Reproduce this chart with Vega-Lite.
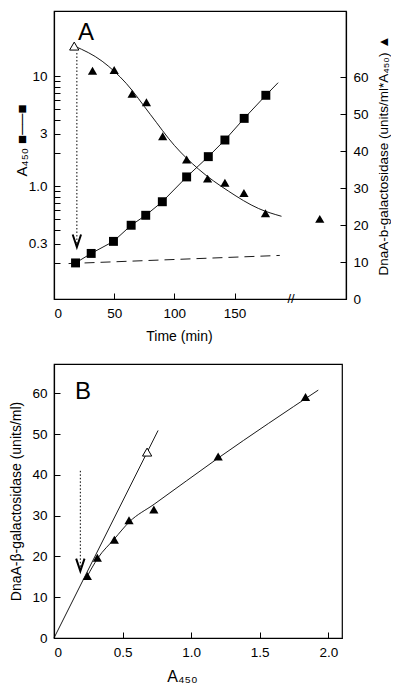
{
  "$schema": "https://vega.github.io/schema/vega-lite/v6.json",
  "padding": {"left": 9, "top": 10, "right": 0, "bottom": 0},
  "background": "white",
  "config": {
    "font": "Liberation Sans",
    "view": {"stroke": "black", "strokeWidth": 1.2},
    "axis": {
      "grid": false, "domainColor": "black", "tickColor": "black", "labelColor": "black", "titleColor": "black",
      "labelFont": "Liberation Sans", "titleFont": "Liberation Sans", "labelFontSize": 13.5, "titleFontSize": 14,
      "titleFontWeight": "normal", "tickSize": -6, "labelPadding": 13, "domainWidth": 1.2, "tickWidth": 1
    }
  },
  "datasets": {
    "squares": [
      {"t": 17.9, "a": 0.2}, {"t": 30.9, "a": 0.244}, {"t": 49.4, "a": 0.314}, {"t": 64.1, "a": 0.44},
      {"t": 76.2, "a": 0.542}, {"t": 90.0, "a": 0.72}, {"t": 110.2, "a": 1.21}, {"t": 128.2, "a": 1.85},
      {"t": 142.0, "a": 2.62}, {"t": 158.0, "a": 4.12}, {"t": 176.0, "a": 6.68}
    ],
    "squareLine": [
      {"t": 17.9, "a": 0.2}, {"t": 30.9, "a": 0.244}, {"t": 49.4, "a": 0.314}, {"t": 64.1, "a": 0.44},
      {"t": 76.2, "a": 0.542}, {"t": 90.0, "a": 0.72}, {"t": 110.2, "a": 1.21}, {"t": 128.2, "a": 1.85},
      {"t": 142.0, "a": 2.62}, {"t": 158.0, "a": 4.12}, {"t": 176.0, "a": 6.68}, {"t": 186.2, "a": 8.7}
    ],
    "arrowA": [{"t": 19, "a": 16.2, "a2": 0.279}],
    "labelA": [{"t": 26.6, "a": 24.6, "label": "A"}],
    "breakA": [{"t": 197, "a": 0.094, "label": "//"}],
    "trianglesA": [
      {"t": 32.0, "g": 61.8}, {"t": 50.0, "g": 62.0}, {"t": 64.9, "g": 55.6}, {"t": 76.8, "g": 53.3},
      {"t": 90.3, "g": 44.1}, {"t": 110.2, "g": 37.8}, {"t": 127.6, "g": 32.6}, {"t": 142.0, "g": 31.5},
      {"t": 157.8, "g": 28.7}, {"t": 175.7, "g": 23.2}, {"t": 220.8, "g": 21.7}
    ],
    "openA": [{"t": 16.8, "g": 68.5}],
    "curveA": [
      {"t": 17, "g": 68.5}, {"t": 40, "g": 64.4}, {"t": 60, "g": 58.4}, {"t": 80, "g": 50.0},
      {"t": 100, "g": 41.6}, {"t": 120, "g": 35.2}, {"t": 145, "g": 29.2}, {"t": 170, "g": 24.5},
      {"t": 189, "g": 22.4}
    ],
    "dashA": [{"t": 12.1, "g": 9.6}, {"t": 187.6, "g": 11.8}],
    "trianglesB": [
      {"x": 0.243, "y": 15.2}, {"x": 0.316, "y": 19.7}, {"x": 0.44, "y": 24.1}, {"x": 0.547, "y": 28.9},
      {"x": 0.728, "y": 31.5}, {"x": 1.197, "y": 44.5}, {"x": 1.834, "y": 59.1}
    ],
    "openB": [{"x": 0.679, "y": 45.6}],
    "steepB": [{"x": 0, "y": 0}, {"x": 0.759, "y": 50.9}],
    "curveB": [
      {"x": 0.24, "y": 15.0}, {"x": 0.32, "y": 19.6}, {"x": 0.44, "y": 24.3}, {"x": 0.55, "y": 28.5},
      {"x": 0.73, "y": 32.8}, {"x": 1.2, "y": 44.2}, {"x": 1.927, "y": 60.8}
    ],
    "arrowB": [{"x": 0.192, "y": 41.0, "y2": 16.4}],
    "labelB": [{"x": 0.212, "y": 60.3, "label": "B"}]
  },
  "vconcat": [
    {
      "width": 292,
      "height": 288,
      "layer": [
        {
          "encoding": {
            "x": {"field": "t", "type": "quantitative", "scale": {"domain": [0, 242.6], "nice": false},
                  "axis": {"values": [0, 50, 100, 150], "title": "Time (min)", "titleX": 125, "titlePadding": 10}},
            "y": {"field": "a", "type": "quantitative",
                  "scale": {"type": "log", "domain": [0.094, 39], "nice": false},
                  "axis": {"values": [0.2, 0.3, 0.4, 0.5, 0.6, 0.7, 0.8, 0.9, 1, 2, 3, 4, 5, 6, 7, 8, 9, 10],
                           "labelExpr": "datum.value == 10 ? '10' : datum.value == 3 ? '3' : datum.value == 1 ? '1.0' : datum.value == 0.3 ? '0.3' : ''",
                           "title": "A₄₅₀   ■──■", "titleFontSize": 15, "titleY": 129, "titlePadding": -1}}
          },
          "layer": [
            {"data": {"name": "squareLine"}, "mark": {"type": "line", "color": "black", "strokeWidth": 0.9}},
            {"data": {"name": "squares"}, "mark": {"type": "point", "shape": "square", "filled": true, "color": "black", "size": 80, "opacity": 1}},
            {"data": {"name": "arrowA"}, "mark": {"type": "rule", "color": "black", "strokeWidth": 1, "strokeDash": [1.5, 2]},
             "encoding": {"y2": {"field": "a2"}}},
            {"data": {"name": "arrowA"}, "mark": {"type": "point", "shape": "M-1,-3L0,0L1,-3", "filled": false, "color": "black", "strokeWidth": 2, "size": 70, "opacity": 1},
             "encoding": {"y": {"field": "a2", "type": "quantitative"}}},
            {"data": {"name": "labelA"}, "mark": {"type": "text", "fontSize": 24, "font": "Liberation Sans", "baseline": "middle", "align": "center", "color": "black"},
             "encoding": {"text": {"field": "label"}}},
            {"data": {"name": "breakA"}, "mark": {"type": "text", "fontSize": 13, "font": "Liberation Sans", "baseline": "middle", "align": "center", "color": "black"},
             "encoding": {"text": {"field": "label"}}}
          ]
        },
        {
          "encoding": {
            "x": {"field": "t", "type": "quantitative", "scale": {"domain": [0, 242.6], "nice": false}},
            "y": {"field": "g", "type": "quantitative",
                  "scale": {"domain": [0, 78], "nice": false},
                  "axis": {"orient": "right", "values": [0, 10, 20, 30, 40, 50, 60],
                           "title": "DnaA-b-galactosidase (units/ml*A₄₅₀) ▲", "titleAngle": -90, "titleBaseline": "top", "titleFontSize": 13.5, "titlePadding": 8}}
          },
          "layer": [
            {"data": {"name": "curveA"}, "mark": {"type": "line", "color": "black", "strokeWidth": 0.9, "interpolate": "monotone"}},
            {"data": {"name": "dashA"}, "mark": {"type": "line", "color": "black", "strokeWidth": 0.9, "strokeDash": [10, 6]}},
            {"data": {"name": "trianglesA"}, "mark": {"type": "point", "shape": "triangle-up", "filled": true, "color": "black", "size": 85, "opacity": 1}},
            {"data": {"name": "openA"}, "mark": {"type": "point", "shape": "triangle-up", "filled": true, "fill": "white", "stroke": "black", "strokeWidth": 1, "size": 85, "opacity": 1}}
          ]
        }
      ],
      "resolve": {"scale": {"y": "independent"}}
    },
    {
      "width": 288,
      "height": 274,
      "encoding": {
        "x": {"field": "x", "type": "quantitative", "scale": {"domain": [0, 2.1], "nice": false},
              "axis": {"values": [0, 0.5, 1, 1.5, 2], "labelExpr": "datum.value == 0 ? '0' : format(datum.value, '.1f')", "title": "A₄₅₀", "titleFontSize": 16, "titleX": 128, "titlePadding": 10}},
        "y": {"field": "y", "type": "quantitative", "scale": {"domain": [0, 67.2], "nice": false},
              "axis": {"values": [0, 10, 20, 30, 40, 50, 60], "title": "DnaA-β-galactosidase (units/ml)", "titlePadding": 8}}
      },
      "layer": [
        {"data": {"name": "steepB"}, "mark": {"type": "line", "color": "black", "strokeWidth": 0.9}},
        {"data": {"name": "curveB"}, "mark": {"type": "line", "color": "black", "strokeWidth": 0.9, "interpolate": "monotone"}},
        {"data": {"name": "arrowB"}, "mark": {"type": "rule", "color": "black", "strokeWidth": 1, "strokeDash": [1.5, 2]},
         "encoding": {"y2": {"field": "y2"}}},
        {"data": {"name": "arrowB"}, "mark": {"type": "point", "shape": "M-1,-3L0,0L1,-3", "filled": false, "color": "black", "strokeWidth": 2, "size": 70, "opacity": 1},
         "encoding": {"y": {"field": "y2", "type": "quantitative"}}},
        {"data": {"name": "trianglesB"}, "mark": {"type": "point", "shape": "triangle-up", "filled": true, "color": "black", "size": 85, "opacity": 1}},
        {"data": {"name": "openB"}, "mark": {"type": "point", "shape": "triangle-up", "filled": true, "fill": "white", "stroke": "black", "strokeWidth": 1, "size": 85, "opacity": 1}},
        {"data": {"name": "labelB"}, "mark": {"type": "text", "fontSize": 24, "font": "Liberation Sans", "baseline": "middle", "align": "center", "color": "black"},
         "encoding": {"text": {"field": "label"}}}
      ]
    }
  ],
  "spacing": 18
}
